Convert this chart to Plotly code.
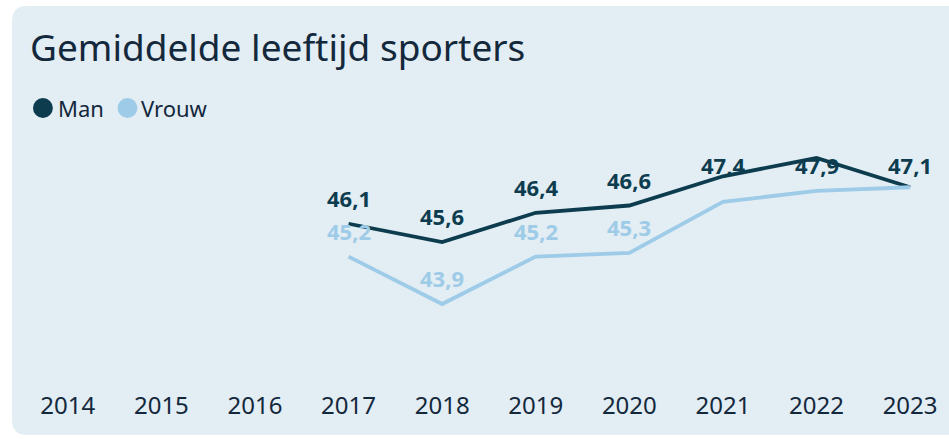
import plotly.graph_objects as go

# ---- data ----
years = ["2014", "2015", "2016", "2017", "2018", "2019", "2020", "2021", "2022", "2023"]
data_years = ["2017", "2018", "2019", "2020", "2021", "2022", "2023"]
man = [46.1, 45.6, 46.4, 46.6, 47.4, 47.9, 47.1]
vrouw = [45.2, 43.9, 45.2, 45.3, 46.7, 47.0, 47.1]
vrouw_label_shown = [True, True, True, True, False, False, False]

title = "Gemiddelde leeftijd sporters"
series_names = ["Man", "Vrouw"]

# ---- style ----
C_MAN = "#0c3c4e"
C_VROUW = "#9ecbe7"
C_TEXT = "#14283c"
C_CARD = "#e2edf4"
FONT = "Noto Sans"

W, H = 949, 439
ML, MR, MT, MB = 30, 15, 120, 50
PW, PH = W - ML - MR, H - MT - MB

Y_LO = 45.6 - (H - MB - 242) / 36.5
Y_HI = 45.6 + (242 - MT) / 36.5
UNITS_PER_PX = (Y_HI - Y_LO) / PH
LABEL_SHIFT = 26          # px above the point
LABEL_CEIL_PX = 164.5     # labels are kept inside the plot area (like Excel)
LABEL_CEIL = Y_HI - (LABEL_CEIL_PX - MT) * UNITS_PER_PX


def px(x):
    return (x - ML) / PW


def py(y):
    return (H - MB - y) / PH


def fmt(v):
    return f"{v:.1f}".replace(".", ",")


fig = go.Figure()
fig.add_trace(go.Scatter(x=data_years, y=man, mode="lines", name=series_names[0],
                         line=dict(color=C_MAN, width=3.8), showlegend=False,
                         hoverinfo="skip"))
fig.add_trace(go.Scatter(x=data_years, y=vrouw, mode="lines", name=series_names[1],
                         line=dict(color=C_VROUW, width=3.8), showlegend=False,
                         hoverinfo="skip"))


def label(yr, v, color):
    if v + LABEL_SHIFT * UNITS_PER_PX > LABEL_CEIL:
        y, shift = LABEL_CEIL, 0
    else:
        y, shift = v, LABEL_SHIFT
    return dict(x=years.index(yr), y=y, xref="x", yref="y", text=f"<b>{fmt(v)}</b>",
                showarrow=False, yshift=shift,
                font=dict(family=FONT, size=22, color=color))


annotations = []
for yr, v, show in zip(data_years, vrouw, vrouw_label_shown):
    if show:
        annotations.append(label(yr, v, C_VROUW))
for yr, v in zip(data_years, man):
    annotations.append(label(yr, v, C_MAN))

# legend (manual)
legend_items = [(series_names[0], C_MAN, 43, 56), (series_names[1], C_VROUW, 128, 140)]
shapes = []
# card background with rounded corners
x0, x1, y0, y1, r = px(12), px(965), py(6), py(435), 15
rx, ry = r / PW, r / PH
path = (f"M {x0+rx},{y0} L {x1},{y0} L {x1},{y1} L {x0+rx},{y1} "
        f"Q {x0},{y1} {x0},{y1+ry} L {x0},{y0-ry} Q {x0},{y0} {x0+rx},{y0} Z")
shapes.append(dict(type="path", xref="paper", yref="paper", path=path,
                   fillcolor=C_CARD, line=dict(width=0), layer="below"))
for name, col, cx, tx in legend_items:
    shapes.append(dict(type="circle", xref="paper", yref="paper",
                       x0=px(cx - 10), x1=px(cx + 10), y0=py(118), y1=py(98),
                       fillcolor=col, line=dict(width=0)))
    annotations.append(dict(x=px(tx), y=py(108), xref="paper", yref="paper", text=name,
                            showarrow=False, xanchor="left", yanchor="middle",
                            font=dict(family=FONT, size=22, color=C_TEXT)))

fig.update_layout(
    width=W, height=H,
    margin=dict(l=ML, r=MR, t=MT, b=MB),
    paper_bgcolor="white",
    plot_bgcolor="rgba(0,0,0,0)",
    title=dict(text=title, x=30 / W, xref="container", xanchor="left",
               y=1 - 48 / H, yref="container", yanchor="middle",
               font=dict(family=FONT, size=37, color=C_TEXT)),
    xaxis=dict(type="category", categoryorder="array", categoryarray=years,
               tickvals=years, range=[(ML - 68) / 94.11, (W - MR - 68) / 94.11],
               showgrid=False, zeroline=False, showline=False, ticks="",
               tickfont=dict(family=FONT, size=24, color=C_TEXT)),
    yaxis=dict(range=[Y_LO, Y_HI], visible=False, showgrid=False, zeroline=False),
    shapes=shapes,
    annotations=annotations,
    showlegend=False,
)

fig.write_html("out.html", config={"displayModeBar": False},
               post_script="document.body.style.margin='0';document.body.style.padding='0';")
